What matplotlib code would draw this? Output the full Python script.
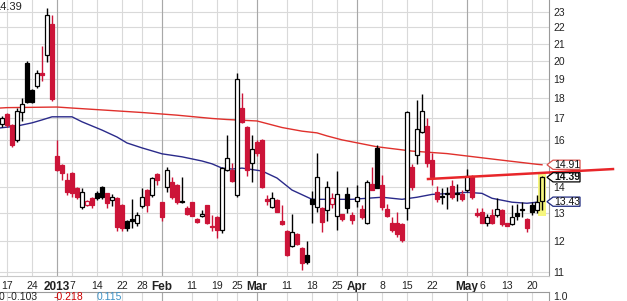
import matplotlib

matplotlib.use("Agg")
from matplotlib import pyplot as plt
from matplotlib.patches import Rectangle, Polygon
from matplotlib.ticker import NullLocator
from matplotlib.transforms import IdentityTransform

plt.rcParams["font.family"] = ["Liberation Sans", "DejaVu Sans"]

# trading-day index, 0 = Mon Dec 17 2012, 107 = Wed May 22 2013
day_idx = list(range(-1, 108))
opens = [16.73, 17.20, 16.70, 16.00, 17.30, 19.90, 18.45, 18.65, 19.32, 20.35,
         22.20, 15.30, 14.90, 14.28, 14.56, 13.96, 13.22, 13.30, 13.56, 13.75,
         14.00, 13.75, 13.49, 13.56, 13.30, 12.72, 12.78, 12.65, 13.27, 13.90,
         13.68, 14.52, 13.40, 14.00, 14.20, 14.08, 13.47, 13.20, 13.40, 12.80,
         12.90, 13.30, 12.55, 12.85, 12.38, 14.69, 14.70, 13.70, 17.52, 16.60,
         15.00, 15.90, 16.00, 13.52, 13.23, 13.50, 12.72, 12.36, 11.83, 12.25,
         11.78, 11.55, 13.52, 13.23, 13.20, 13.12, 13.35, 12.90, 12.96, 13.72,
         12.92, 13.47, 13.16, 12.65, 14.12, 15.65, 14.08, 13.16, 12.65, 12.65,
         12.60, 13.20, 14.80, 15.33, 16.35, 16.65, 15.10, 13.80, 13.65, 13.75,
         14.02, 13.75, 13.72, 13.88, 14.45, 13.00, 13.05, 12.66, 12.93, 12.93,
         13.12, 12.64, 12.62, 13.00, 13.14, 12.78, 13.30, 13.10, 13.45]
highs = [17.10, 17.25, 16.72, 17.50, 18.00, 20.00, 18.50, 19.50, 20.90, 23.25,
         22.80, 16.00, 14.95, 14.56, 14.60, 14.00, 13.96, 13.50, 13.60, 13.85,
         14.05, 13.78, 13.72, 13.60, 13.35, 12.75, 13.53, 13.05, 13.96, 13.92,
         14.40, 14.55, 13.40, 14.82, 14.40, 14.10, 14.40, 13.25, 13.42, 12.82,
         13.10, 13.32, 12.93, 12.88, 14.80, 16.20, 15.00, 19.35, 18.27, 16.65,
         16.20, 16.00, 16.05, 13.68, 13.80, 13.55, 13.30, 12.40, 12.97, 12.28,
         11.80, 12.00, 13.85, 15.40, 13.22, 14.24, 13.77, 14.65, 12.98, 14.00,
         13.05, 14.08, 13.30, 14.30, 14.80, 15.75, 14.48, 13.35, 12.86, 13.05,
         12.65, 17.35, 14.95, 17.90, 18.20, 17.00, 15.40, 14.05, 13.95, 14.00,
         14.30, 14.13, 13.90, 14.75, 14.50, 13.20, 13.20, 12.97, 13.15, 13.56,
         13.15, 12.66, 13.30, 13.36, 13.42, 12.82, 13.42, 13.70, 14.45]
lows = [16.60, 16.60, 15.66, 15.90, 16.90, 17.75, 17.78, 18.55, 18.90, 19.95,
        17.85, 14.65, 14.28, 13.68, 13.60, 13.55, 13.15, 13.25, 13.20, 13.50,
        13.55, 13.20, 13.26, 12.35, 12.35, 12.35, 12.45, 12.52, 13.20, 13.05,
        13.60, 14.08, 12.70, 13.80, 13.55, 13.35, 13.38, 12.95, 12.88, 12.66,
        12.85, 12.62, 12.35, 12.13, 12.30, 14.65, 14.20, 13.60, 16.80, 14.45,
        14.20, 15.30, 13.98, 13.30, 13.18, 13.03, 12.58, 11.50, 11.80, 11.88,
        11.07, 11.25, 12.65, 13.05, 12.33, 12.70, 13.20, 12.40, 12.70, 13.00,
        12.60, 13.23, 12.80, 12.60, 13.88, 13.95, 13.12, 12.85, 12.33, 12.15,
        11.98, 12.75, 13.88, 14.95, 16.30, 14.82, 14.08, 13.40, 13.35, 13.15,
        13.55, 13.47, 13.45, 13.80, 13.55, 12.85, 12.63, 12.54, 12.62, 12.86,
        12.55, 12.53, 12.58, 12.76, 12.85, 12.32, 12.93, 13.00, 13.10]
closes = [17.02, 16.70, 15.75, 17.35, 17.70, 17.80, 17.83, 19.35, 19.25, 22.80,
          17.98, 14.70, 14.56, 13.82, 13.78, 13.60, 13.80, 13.47, 13.30, 13.57,
          13.60, 13.38, 13.60, 12.50, 12.45, 12.48, 12.72, 12.93, 13.60, 13.30,
          14.36, 14.28, 12.85, 14.68, 13.60, 13.40, 13.43, 12.98, 12.90, 12.68,
          12.97, 12.66, 12.50, 12.38, 14.77, 15.20, 14.22, 19.00, 16.82, 14.70,
          15.60, 15.40, 14.00, 13.47, 13.56, 13.05, 12.62, 11.55, 12.33, 11.90,
          11.30, 11.32, 13.34, 14.39, 12.68, 14.00, 13.58, 13.72, 12.80, 13.20,
          12.75, 13.60, 12.85, 14.20, 13.90, 13.97, 13.23, 12.90, 12.40, 12.25,
          12.05, 17.30, 14.00, 16.50, 17.35, 15.00, 14.39, 13.52, 13.60, 13.72,
          13.62, 13.72, 13.52, 14.45, 13.60, 12.93, 12.66, 12.86, 12.66, 13.16,
          12.60, 12.55, 12.85, 12.88, 13.12, 12.48, 13.06, 13.40, 14.39]

# moving averages
ma_long_idx = [-1.4, 0, 10, 13, 20, 27, 34, 41, 44, 50, 55, 59, 62, 64, 67,
               74, 81, 88, 98, 106, 107]
ma_long_val = [17.51, 17.53, 17.56, 17.51, 17.40, 17.29, 17.16, 17.00, 16.95,
               16.88, 16.57, 16.40, 16.32, 16.18, 16.00, 15.69, 15.50, 15.39,
               15.13, 14.93, 14.91]
ma_short_idx = [-1.4, 2, 5, 7, 9, 13, 15, 19, 22, 24, 27, 29, 31, 35, 39, 41,
                43, 45, 47, 51, 54, 57, 61, 62, 69, 75, 79, 82, 85, 89, 92,
                95, 97, 101, 104, 106, 107]
ma_short_val = [16.55, 16.64, 16.79, 16.93, 17.08, 17.08, 16.84, 16.45, 16.13,
                15.86, 15.64, 15.51, 15.38, 15.25, 15.07, 14.95, 14.77, 14.73,
                14.77, 14.65, 14.36, 13.88, 13.52, 13.52, 13.52, 13.60, 13.52,
                13.60, 13.71, 13.75, 13.79, 13.75, 13.56, 13.41, 13.37, 13.41,
                13.43]

trend_idx = [84.2, 121.2]
trend_val = [14.32, 14.73]

tick_idx = [0, 5, 10, 13, 18, 23, 27, 31, 37, 42, 46, 50, 56, 61, 66, 70, 75,
            80, 85, 92, 95, 100, 105]
tick_labels = ["17", "24", "2013", "7", "14", "22", "28", "Feb", "11", "19",
               "25", "Mar", "11", "18", "25", "Apr", "8", "15", "22", "May",
               "6", "13", "20"]
bold_labels = ["2013", "Feb", "Mar", "Apr", "May"]
month_idx = [10, 31, 50, 70, 92]

price_ticks = [11, 12, 13, 14, 15, 16, 17, 18, 19, 20, 21, 22, 23]
price_tick_labels = ["11", "12", "13", "14", "", "16", "17", "18", "19", "20",
                     "21", "22", "23"]

tag_values = [14.91, 14.39, 13.43]
tag_texts = ["14.91", "14.39", "13.43"]
tag_edges = ["#d9534f", "#000000", "#1f2a80"]
tag_weights = ["normal", "bold", "normal"]

W, H = 627, 301
RED = "#cc1438"
GRID = "#d9d9d9"

fig = plt.figure(figsize=(W / 100, H / 100), dpi=100)
fig.patch.set_facecolor("white")
ax = fig.add_axes([0, 1 - 276 / H, 549 / W, 276 / H])
ax.set_yscale("log")
ax.set_xlim(-1.4, 108.4)
ax.set_ylim(10.88, 23.78)

ax.set_yticks(price_ticks)
ax.set_yticklabels(price_tick_labels)
ax.yaxis.set_minor_locator(NullLocator())
ax.yaxis.tick_right()
ax.tick_params(axis="y", length=0, pad=3, labelsize=7.5, colors="#222222")
ax.set_xticks(tick_idx)
ax.set_xticklabels(tick_labels)
ax.tick_params(axis="x", length=0, pad=3.5, labelsize=7.5, colors="#222222")
for lab in ax.get_xticklabels():
    if lab.get_text() in bold_labels:
        lab.set_fontweight("bold")
        lab.set_fontsize(8.5)

ax.grid(True, color=GRID, linewidth=0.8)
ax.set_axisbelow(True)
for m in month_idx:
    ax.axvline(m, color="#a8a8a8", linewidth=0.8, zorder=0.6)
for side in ("top", "left"):
    ax.spines[side].set_visible(False)
ax.spines["right"].set_color("#9a9a9a")
ax.spines["bottom"].set_color("#c8c8c8")

# moving averages
ax.plot(ma_long_idx, ma_long_val, color="#e0302c", linewidth=1.0, zorder=2)
ax.plot(ma_short_idx, ma_short_val, color="#2a2a8a", linewidth=1.0, zorder=2)

# candles
body_w = 0.78
prev_close = None
for i, o, h, l, c in zip(day_idx, opens, highs, lows, closes):
    down = prev_close is not None and c < prev_close
    col = RED if down else "#000000"
    last = i == day_idx[-1]
    if last:
        ax.add_patch(Rectangle((i - 0.8, l * 0.985), 1.6, h * 1.005 - l * 0.985,
                               facecolor="#f6f67e", edgecolor="none", zorder=2.5))
    ax.plot([i, i], [l, h], color=col, linewidth=1.0, zorder=3,
            solid_capstyle="butt")
    lo, hi = min(o, c), max(o, c)
    if hi - lo < 0.02:
        hi = lo * 1.002
    if c >= o:
        face = "#f6f67e" if last else "white"
        ax.add_patch(Rectangle((i - body_w / 2, lo), body_w, hi - lo,
                               facecolor=face, edgecolor=col, linewidth=0.9,
                               zorder=4))
    else:
        ax.add_patch(Rectangle((i - body_w / 2, lo), body_w, hi - lo,
                               facecolor=col, edgecolor=col, linewidth=0.9,
                               zorder=4))
    prev_close = c

# trendline running out past the plot
ax.plot(trend_idx, trend_val, color="#e8262a", linewidth=1.8, zorder=5,
        clip_on=False)

# price tags on the right
fig.canvas.draw()
for val, txt, edge, weight in zip(tag_values, tag_texts, tag_edges, tag_weights):
    yc = ax.transData.transform((0, val))[1]
    x0, x1 = 547, 580
    pts = [(x0, yc), (x0 + 6, yc + 4.6), (x1, yc + 4.6), (x1, yc - 4.6),
           (x0 + 6, yc - 4.6)]
    fig.add_artist(Polygon(pts, closed=True, facecolor="white", edgecolor=edge,
                           linewidth=0.9, transform=IdentityTransform(),
                           zorder=6))
    fig.text(x0 + 7, yc, txt, transform=IdentityTransform(), ha="left",
             va="center", fontsize=7.5, fontweight=weight, color="#111111",
             zorder=7)

# lower indicator panel, mostly cut off
ax2 = fig.add_axes([0, -0.1, 549 / W, (H - 292) / H + 0.1])
ax2.set_xlim(-1.4, 108.4)
ax2.set_xticks(tick_idx)
ax2.set_yticks([])
ax2.tick_params(axis="x", length=0, labelbottom=False)
ax2.grid(True, axis="x", color=GRID, linewidth=0.8)
for side in ("left", "bottom"):
    ax2.spines[side].set_visible(False)
ax2.spines["top"].set_linestyle((0, (1, 1)))
ax2.spines["top"].set_color("#9a9a9a")
ax2.spines["right"].set_color("#9a9a9a")
for m in month_idx:
    ax2.axvline(m, color="#a8a8a8", linewidth=0.8)

fig.text(553 / W, 1 - 296.5 / H, "1.0", ha="left", va="center", fontsize=7.5,
         color="#222222")
fig.text(-1 / W, 1 - 297.5 / H, "0 -0.103", ha="left", va="center",
         fontsize=7.5, color="#222222")
fig.text(54 / W, 1 - 297.5 / H, "-0.218", ha="left", va="center",
         fontsize=7.5, color="#cc0000")
fig.text(97 / W, 1 - 297.5 / H, "0.115", ha="left", va="center", fontsize=7.5,
         color="#3a8fc4")
fig.text(-6 / W, 1 - 7 / H, "14.39", ha="left", va="center", fontsize=8,
         color="#222222")

fig.savefig("out.png", dpi=100, facecolor="white")
plt.close(fig)
